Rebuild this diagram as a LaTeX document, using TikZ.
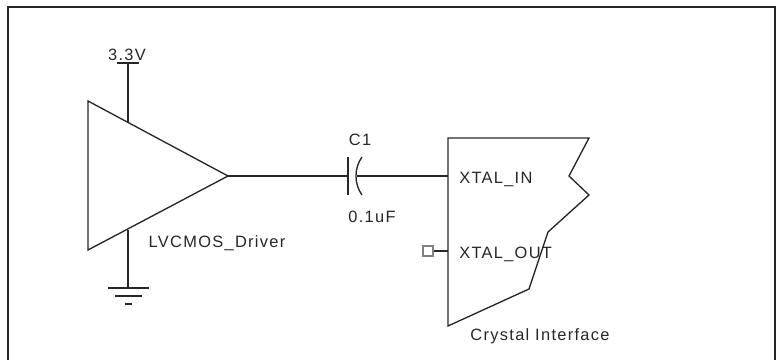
\documentclass[tikz,border=0pt]{standalone}
\usepackage{fontspec}
\setmainfont{Liberation Sans}[LetterSpace=8]
\usepackage{tikz}

\tikzset{
  wire/.style={line width=1pt, draw=black!85},
  lbl/.style={inner sep=0pt, font=\fontsize{12.3}{14}\selectfont, text=black!85},
}

\begin{document}
\begin{tikzpicture}[x=0.75pt,y=-0.75pt]
\useasboundingbox (0,0) rectangle (776,360);
% Outer frame
\draw[line width=1.3pt, draw=black!85] (8,370) -- (8,7) -- (775,7) -- (775,370);
% Draw the driver triangle
\draw[wire] (88,101) -- (228,176) -- (88,250) -- cycle;
\coordinate (drvtop) at (128,122);
\coordinate (drvbot) at (128,230);
\coordinate (drvout) at (228,176);
% Supply
\coordinate (vcc) at (128,63);
\draw[wire] (drvtop) -- (vcc);
\draw[wire] (117,63) -- (139,63);
\node[lbl] (vcclbl) at (127,55) {3.3V};
% Ground
\coordinate (gnd) at (128,288);
\draw[wire] (drvbot) -- (gnd);
\draw[wire] (108,288) -- (149,288);
\draw[wire] (115,296) -- (142,296);
\draw[wire] (125,304) -- (132,304);
\node[lbl] (drvlbl) at (217,243) {LVCMOS\_Driver};
% Capacitor C1
\coordinate (capa) at (348,176);
\coordinate (capb) at (357,176);
\draw[wire] (348,157) -- (348,195);
\draw[wire] (362,157) .. controls (354,168) and (354,184) .. (362,195);
\draw[wire] (drvout) -- (capa);
\node[lbl] (clbl) at (360,140) {C1};
\node[lbl] (cval) at (372,217) {0.1uF};
% Crystal interface block
\draw[wire] (448,138) -- (589,138) -- (569,176) -- (589,195) -- (548,232)
  -- (529,289) -- (448,326) -- cycle;
\coordinate (xin) at (448,176);
\coordinate (xout) at (448,251);
\coordinate (xoutend) at (433,251);
\draw[wire] (capb) -- (xin);
\node[lbl, anchor=west] (xinlbl) at (459,179) {XTAL\_IN};
\node[lbl, anchor=west] (xoutlbl) at (459,254) {XTAL\_OUT};
\draw[wire] (xoutend) -- (xout);
\draw[line width=1pt, draw=black!50] (423,246) rectangle (433,256);
\node[lbl] (xtallbl) at (540,336) {Crystal Interface};
\end{tikzpicture}
\end{document}
